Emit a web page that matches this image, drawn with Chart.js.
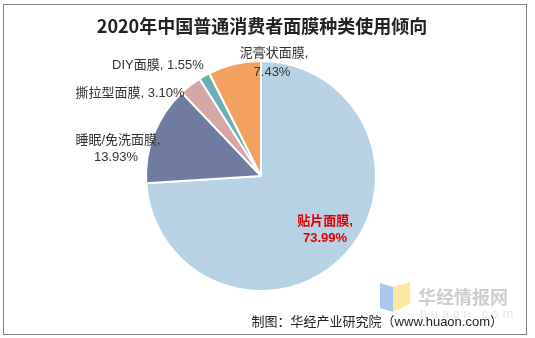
<!DOCTYPE html>
<html>
<head>
<meta charset="utf-8">
<script src="https://cdn.jsdelivr.net/npm/chart.js@4"></script>
<style>
  body { margin: 0; background: #fff; }
  #wrap { width: 535px; height: 338px; }
</style>
</head>
<body>
<div id="wrap"><canvas id="pieChart" width="535" height="338"></canvas></div>
<script>
const categories = ['贴片面膜', '睡眠/免洗面膜', '撕拉型面膜', 'DIY面膜', '泥膏状面膜'];
const shares = [73.99, 13.93, 3.10, 1.55, 7.43];
const sliceColors = ['#B7D2E5', '#6F7BA0', '#D6A7A7', '#6AAFB3', '#F2A15E'];

const titleText = '2020年中国普通消费者面膜种类使用倾向';
const sourceText = '制图：华经产业研究院（www.huaon.com）';

// where each label goes, relative to the pie centre
const labelLayout = [
    { lines: [[64, 45], [64, 62]], color: '#E00000', bold: true },
    { lines: [[-143, -36], [-145, -19]], color: '#333' },
    { lines: [[-131, -83]], color: '#333' },
    { lines: [[-103, -111]], color: '#333' },
    { lines: [[13, -123], [11, -104]], color: '#333' }
];

const labelFont = '"Liberation Sans", "Noto Sans CJK SC", sans-serif';

const decorPlugin = {
    id: 'decor',
    afterDraw(chart) {
        const ctx = chart.ctx;
        ctx.save();

        // frame
        ctx.strokeStyle = '#808080';
        ctx.lineWidth = 1;
        ctx.strokeRect(3.5, 4.5, 523, 330);

        // title
        ctx.fillStyle = '#222';
        ctx.font = 'bold 18px "Noto Sans CJK SC", sans-serif';
        ctx.textAlign = 'center';
        ctx.textBaseline = 'middle';
        ctx.fillText(titleText, 262, 26);

        // watermark
        ctx.fillStyle = '#A9C8F0';
        ctx.beginPath();
        ctx.moveTo(380, 283); ctx.lineTo(393, 287); ctx.lineTo(393, 312); ctx.lineTo(380, 308);
        ctx.closePath(); ctx.fill();
        ctx.fillStyle = '#FBE7A4';
        ctx.beginPath();
        ctx.moveTo(393, 287); ctx.lineTo(410, 282); ctx.lineTo(410, 304); ctx.lineTo(393, 312);
        ctx.closePath(); ctx.fill();
        ctx.fillStyle = '#CDCDCD';
        ctx.font = 'bold 18px "Noto Sans CJK SC", sans-serif';
        ctx.textAlign = 'left';
        ctx.fillText('华经情报网', 418, 297);
        ctx.fillStyle = '#E6E6E6';
        ctx.font = '13px "Liberation Sans", sans-serif';
        ctx.fillText('h u a o n . c o m', 420, 314);

        // labels
        const meta = chart.getDatasetMeta(0);
        meta.data.forEach((arc, i) => {
            const lay = labelLayout[i];
            const pct = shares[i].toFixed(2) + '%';
            const parts = lay.lines.length > 1 ? [categories[i] + ',', pct] : [categories[i] + ', ' + pct];
            ctx.fillStyle = lay.color;
            ctx.font = (lay.bold ? 'bold ' : '') + '13px ' + labelFont;
            ctx.textAlign = 'center';
            parts.forEach((txt, j) => {
                ctx.fillText(txt, arc.x + lay.lines[j][0], arc.y + lay.lines[j][1]);
            });
        });

        // source
        ctx.fillStyle = '#222';
        ctx.font = '13px ' + labelFont;
        ctx.textAlign = 'right';
        ctx.fillText(sourceText, 503, 322);

        ctx.restore();
    }
};

new Chart(document.getElementById('pieChart').getContext('2d'), {
    type: 'pie',
    data: {
        labels: categories,
        datasets: [{
            data: shares,
            backgroundColor: sliceColors,
            borderColor: '#fff',
            borderWidth: 2
        }]
    },
    options: {
        responsive: false,
        animation: false,
        radius: 115,
        layout: { padding: { left: 140, right: 153, top: 60, bottom: 46 } },
        plugins: {
            legend: { display: false },
            tooltip: { enabled: false },
            title: { display: false }
        }
    },
    plugins: [decorPlugin]
});
</script>
</body>
</html>
